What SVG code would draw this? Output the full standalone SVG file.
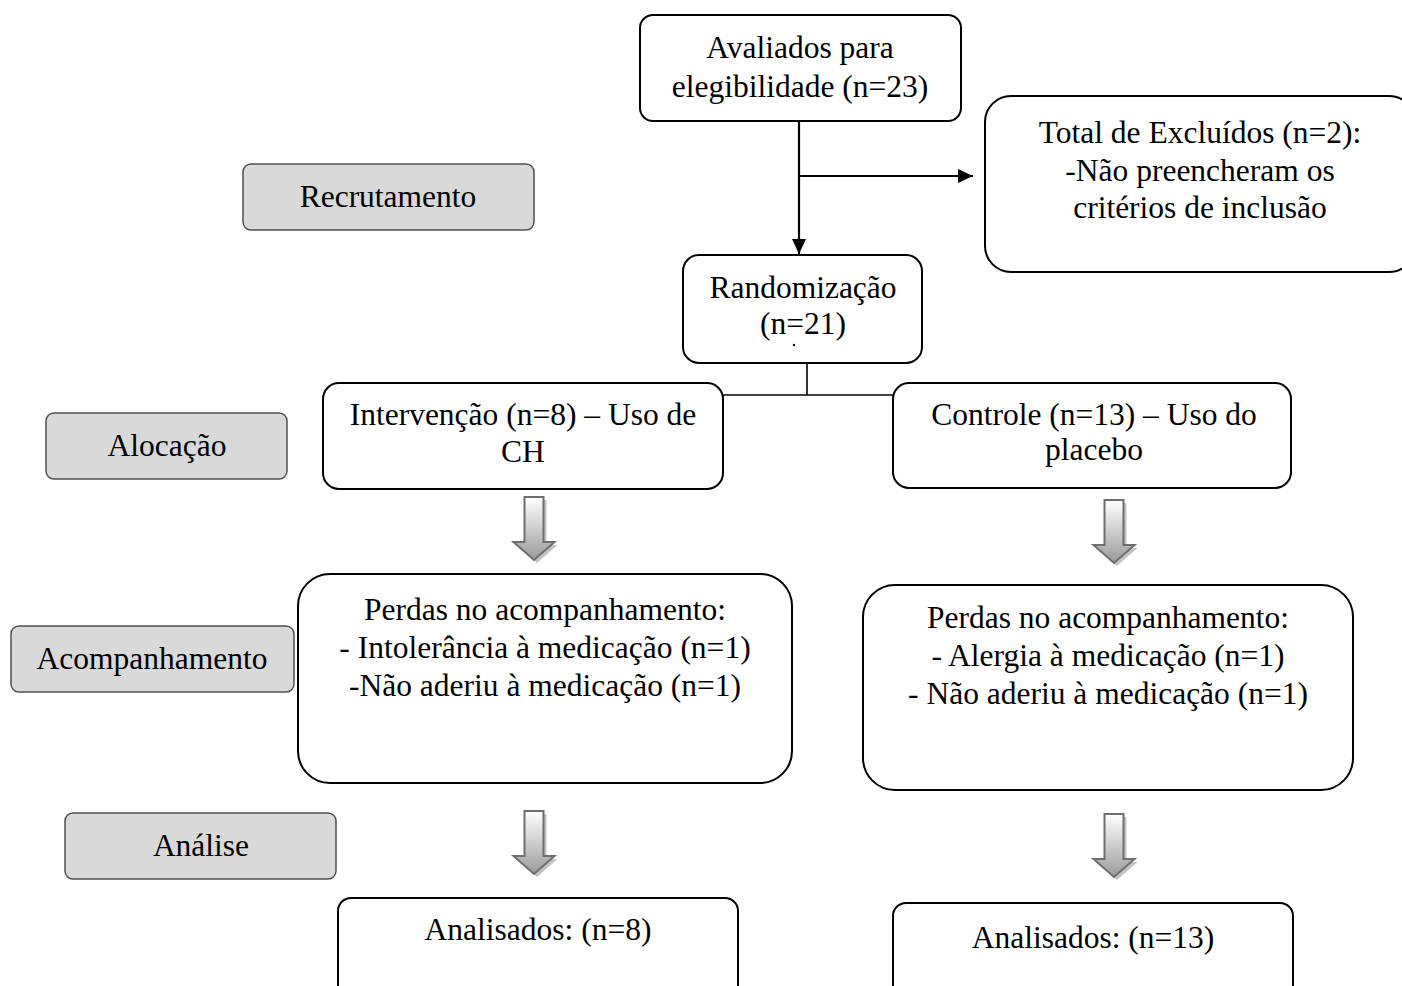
<svg xmlns="http://www.w3.org/2000/svg" width="1402" height="986" viewBox="0 0 1402 986">
<style>
.box{fill:#fff;stroke:#000;stroke-width:2}
.stage{fill:#d9d9d9;stroke:#505050;stroke-width:1.5}
.t{font-family:"Liberation Serif","Times New Roman",serif;font-size:31.5px;fill:#000;text-anchor:middle}
.ln{stroke:#000;fill:none}
</style>
<defs>
<marker id="ah" viewBox="0 0 15 14" refX="15" refY="7" markerWidth="15" markerHeight="14" markerUnits="userSpaceOnUse" orient="auto">
<path d="M0,0 L15,7 L0,14 Z" fill="#000"/>
</marker>
<linearGradient id="ag" x1="0" y1="0" x2="0" y2="1">
<stop offset="0" stop-color="#ffffff"/>
<stop offset="1" stop-color="#9a9a9a"/>
</linearGradient>
<g id="barrow">
<path d="M-9.5,0 H9.5 V45 H20.5 L0,63 L-20.5,45 H-9.5 Z" transform="translate(3,3)" fill="#c4c4c4"/>
<path d="M-9.5,0 H9.5 V45 H20.5 L0,63 L-20.5,45 H-9.5 Z" fill="url(#ag)" stroke="#6e6e6e" stroke-width="2"/>
</g>
</defs>
<rect width="1402" height="986" fill="#fff"/>

<g id="connectors">
<line class="ln" stroke-width="2.2" x1="799" y1="121" x2="799" y2="254" marker-end="url(#ah)"/>
<line class="ln" stroke-width="2.2" x1="799" y1="176" x2="973" y2="176" marker-end="url(#ah)"/>
<line class="ln" stroke-width="1.6" x1="807" y1="363" x2="807" y2="395"/>
<line class="ln" stroke-width="1.6" x1="723" y1="395" x2="893" y2="395"/>
<use href="#barrow" x="534" y="497"/>
<use href="#barrow" x="1114" y="500"/>
<use href="#barrow" x="534" y="811"/>
<use href="#barrow" x="1114" y="814"/>
</g>

<g id="recrutamento">
<rect class="stage" x="243" y="164" width="291" height="66" rx="8"/>
<text class="t" x="388" y="207">Recrutamento</text>
</g>
<g id="alocacao">
<rect class="stage" x="46" y="413" width="241" height="66" rx="8"/>
<text class="t" x="167" y="456">Alocação</text>
</g>
<g id="acompanhamento">
<rect class="stage" x="11" y="626" width="283" height="66" rx="8"/>
<text class="t" x="152" y="669">Acompanhamento</text>
</g>
<g id="analise">
<rect class="stage" x="65" y="813" width="271" height="66" rx="8"/>
<text class="t" x="201" y="856">Análise</text>
</g>

<g id="avaliados">
<rect class="box" x="640" y="15" width="321" height="106" rx="13"/>
<text class="t" x="800" y="58">Avaliados para</text>
<text class="t" x="800" y="97">elegibilidade (n=23)</text>
</g>
<g id="excluidos">
<rect class="box" x="985" y="96" width="430" height="176" rx="26"/>
<text class="t" x="1200" y="143">Total de Excluídos (n=2):</text>
<text class="t" x="1200" y="181">-Não preencheram os</text>
<text class="t" x="1200" y="218">critérios de inclusão</text>
</g>
<g id="randomizacao">
<rect class="box" x="683" y="255" width="239" height="108" rx="16"/>
<text class="t" x="803" y="298">Randomização</text>
<text class="t" x="803" y="334">(n=21)</text>
<circle cx="794" cy="345" r="1.2" fill="#000"/>
</g>
<g id="intervencao">
<rect class="box" x="323" y="383" width="400" height="106" rx="16"/>
<text class="t" x="523" y="425">Intervenção (n=8) – Uso de</text>
<text class="t" x="523" y="462">CH</text>
</g>
<g id="controle">
<rect class="box" x="893" y="383" width="398" height="105" rx="16"/>
<text class="t" x="1094" y="425">Controle (n=13) – Uso do</text>
<text class="t" x="1094" y="460">placebo</text>
</g>
<g id="perdas-intervencao">
<rect class="box" x="298" y="574" width="494" height="209" rx="32"/>
<text class="t" x="545" y="620">Perdas no acompanhamento:</text>
<text class="t" x="545" y="658">- Intolerância à medicação (n=1)</text>
<text class="t" x="545" y="696">-Não aderiu à medicação (n=1)</text>
</g>
<g id="perdas-controle">
<rect class="box" x="863" y="585" width="490" height="205" rx="32"/>
<text class="t" x="1108" y="628">Perdas no acompanhamento:</text>
<text class="t" x="1108" y="666">- Alergia à medicação (n=1)</text>
<text class="t" x="1108" y="704">- Não aderiu à medicação (n=1)</text>
</g>
<g id="analisados-intervencao">
<rect class="box" x="338" y="898" width="400" height="110" rx="13"/>
<text class="t" x="538" y="940">Analisados: (n=8)</text>
</g>
<g id="analisados-controle">
<rect class="box" x="893" y="903" width="400" height="110" rx="13"/>
<text class="t" x="1093" y="948">Analisados: (n=13)</text>
</g>
</svg>
